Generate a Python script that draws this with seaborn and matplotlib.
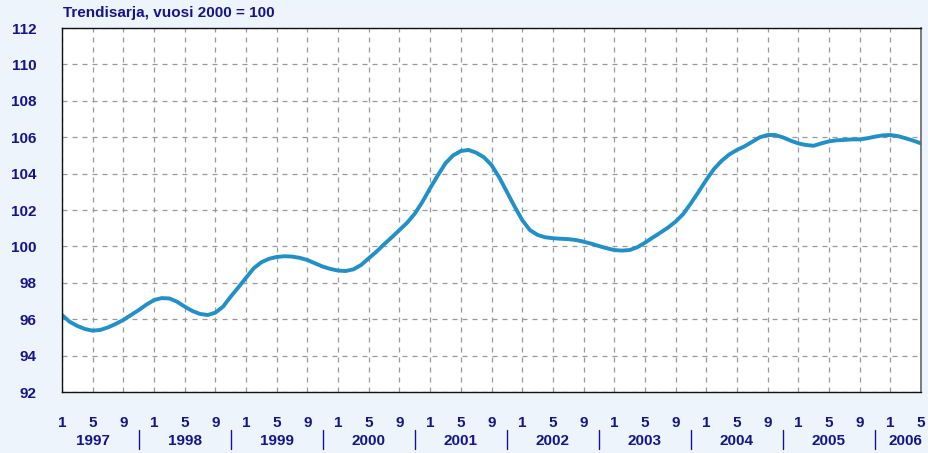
#Import Libraries
import pandas as pd
import numpy as np
import matplotlib.pyplot as plt
import matplotlib.transforms as mtransforms
from matplotlib.ticker import FixedLocator, MultipleLocator
import seaborn as sns


#Data (trend series, 2000 = 100), monthly 1/1997 - 5/2006
years = [1997, 1998, 1999, 2000, 2001, 2002, 2003, 2004, 2005, 2006]
v1997 = [96.23, 95.86, 95.63, 95.46, 95.37, 95.41, 95.55, 95.74, 95.96, 96.23, 96.50, 96.80]
v1998 = [97.05, 97.16, 97.14, 96.96, 96.69, 96.45, 96.29, 96.23, 96.36, 96.69, 97.24, 97.75]
v1999 = [98.28, 98.80, 99.13, 99.32, 99.42, 99.46, 99.44, 99.37, 99.25, 99.07, 98.89, 98.76]
v2000 = [98.67, 98.65, 98.74, 98.98, 99.35, 99.71, 100.12, 100.50, 100.90, 101.30, 101.80, 102.45]
v2001 = [103.20, 103.90, 104.57, 105.00, 105.24, 105.30, 105.15, 104.90, 104.47, 103.80, 103.00, 102.20]
v2002 = [101.45, 100.90, 100.63, 100.50, 100.45, 100.42, 100.40, 100.35, 100.26, 100.15, 100.02, 99.90]
v2003 = [99.80, 99.77, 99.80, 99.95, 100.20, 100.48, 100.75, 101.03, 101.36, 101.78, 102.37, 103.00]
v2004 = [103.65, 104.25, 104.70, 105.05, 105.30, 105.50, 105.75, 106.00, 106.12, 106.12, 105.99, 105.81]
v2005 = [105.66, 105.57, 105.53, 105.66, 105.77, 105.83, 105.85, 105.88, 105.88, 105.94, 106.03, 106.10]
v2006 = [106.12, 106.06, 105.94, 105.81, 105.66]

values = v1997 + v1998 + v1999 + v2000 + v2001 + v2002 + v2003 + v2004 + v2005 + v2006
months = [m for y in years for m in range(1, 13)][:len(values)]
year_col = [y for y in years for m in range(1, 13)][:len(values)]

df = pd.DataFrame({"idx": np.arange(len(values)), "year": year_col,
                   "month": months, "value": values})

title = "Trendisarja, vuosi 2000 = 100"
y_ticks = list(range(92, 113, 2))
label_months = [1, 5, 9]

bg = "#eef4fc"
navy = "#14148c"
line_col = "#2190c8"


#Graph
sns.set_style("white")
plt.rcParams['font.family'] = ['Liberation Sans', 'DejaVu Sans']

fig = plt.figure(figsize=(9.29, 4.53), dpi=100, facecolor=bg)
ax = fig.add_axes([62 / 929, 1 - 392 / 453, (921 - 62) / 929, (392 - 28) / 453])
ax.set_facecolor("white")

sns.lineplot(data=df, x="idx", y="value", color=line_col, linewidth=2.8, ax=ax,
             solid_capstyle="round")

ax.set_xlim(0, len(values) - 1)
ax.set_ylim(92, 112)
ax.set_xlabel("")
ax.set_ylabel("")

# x ticks: major at months 1, 5, 9 ; minor every month
major = df[df["month"].isin(label_months)]
ax.xaxis.set_major_locator(FixedLocator(major["idx"].tolist()))
ax.set_xticklabels([str(m) for m in major["month"]])
ax.xaxis.set_minor_locator(MultipleLocator(1))
ax.set_yticks(y_ticks)
ax.set_yticklabels([str(t) for t in y_ticks])

ax.tick_params(axis="x", which="major", direction="out", length=8, width=0.9,
               color="#222222", pad=9.5, labelsize=11, labelcolor=navy)
ax.tick_params(axis="x", which="minor", direction="out", length=3, width=0.8,
               color="#222222")
ax.tick_params(axis="y", which="major", direction="out", length=9.5, width=1.0,
               color="#333333", pad=9, labelsize=11, labelcolor=navy)
for lab in ax.get_xticklabels() + ax.get_yticklabels():
    lab.set_fontweight("bold")

ax.grid(True, which="major", linestyle=(0, (4, 4)), color="#999999", linewidth=0.9)
ax.set_axisbelow(True)

for side in ["left", "bottom", "top"]:
    ax.spines[side].set_color("#111111")
    ax.spines[side].set_linewidth(1.0)
ax.spines["right"].set_color("#666666")
ax.spines["right"].set_linewidth(1.2)

# year labels and separators under the month numbers
trans = mtransforms.blended_transform_factory(ax.transData, ax.transAxes)
for y in years:
    sub = df[(df["year"] == y) & (df["month"].isin(label_months))]
    xpos = (sub["idx"].min() + sub["idx"].max()) / 2
    ax.text(xpos, -0.135, str(y), transform=trans, ha="center", va="center",
            fontsize=11, fontweight="bold", color=navy)
    sep = df[(df["year"] == y) & (df["month"] == 11)]["idx"]
    if len(sep):
        ax.plot([sep.iloc[0], sep.iloc[0]], [-0.105, -0.157], transform=trans,
                color=navy, linewidth=1.0, clip_on=False)

ax.text(0.001, 1.041, title, transform=ax.transAxes, ha="left", va="center",
        fontsize=11, fontweight="bold", color=navy)

plt.savefig("out.png", dpi=100, facecolor=bg)
